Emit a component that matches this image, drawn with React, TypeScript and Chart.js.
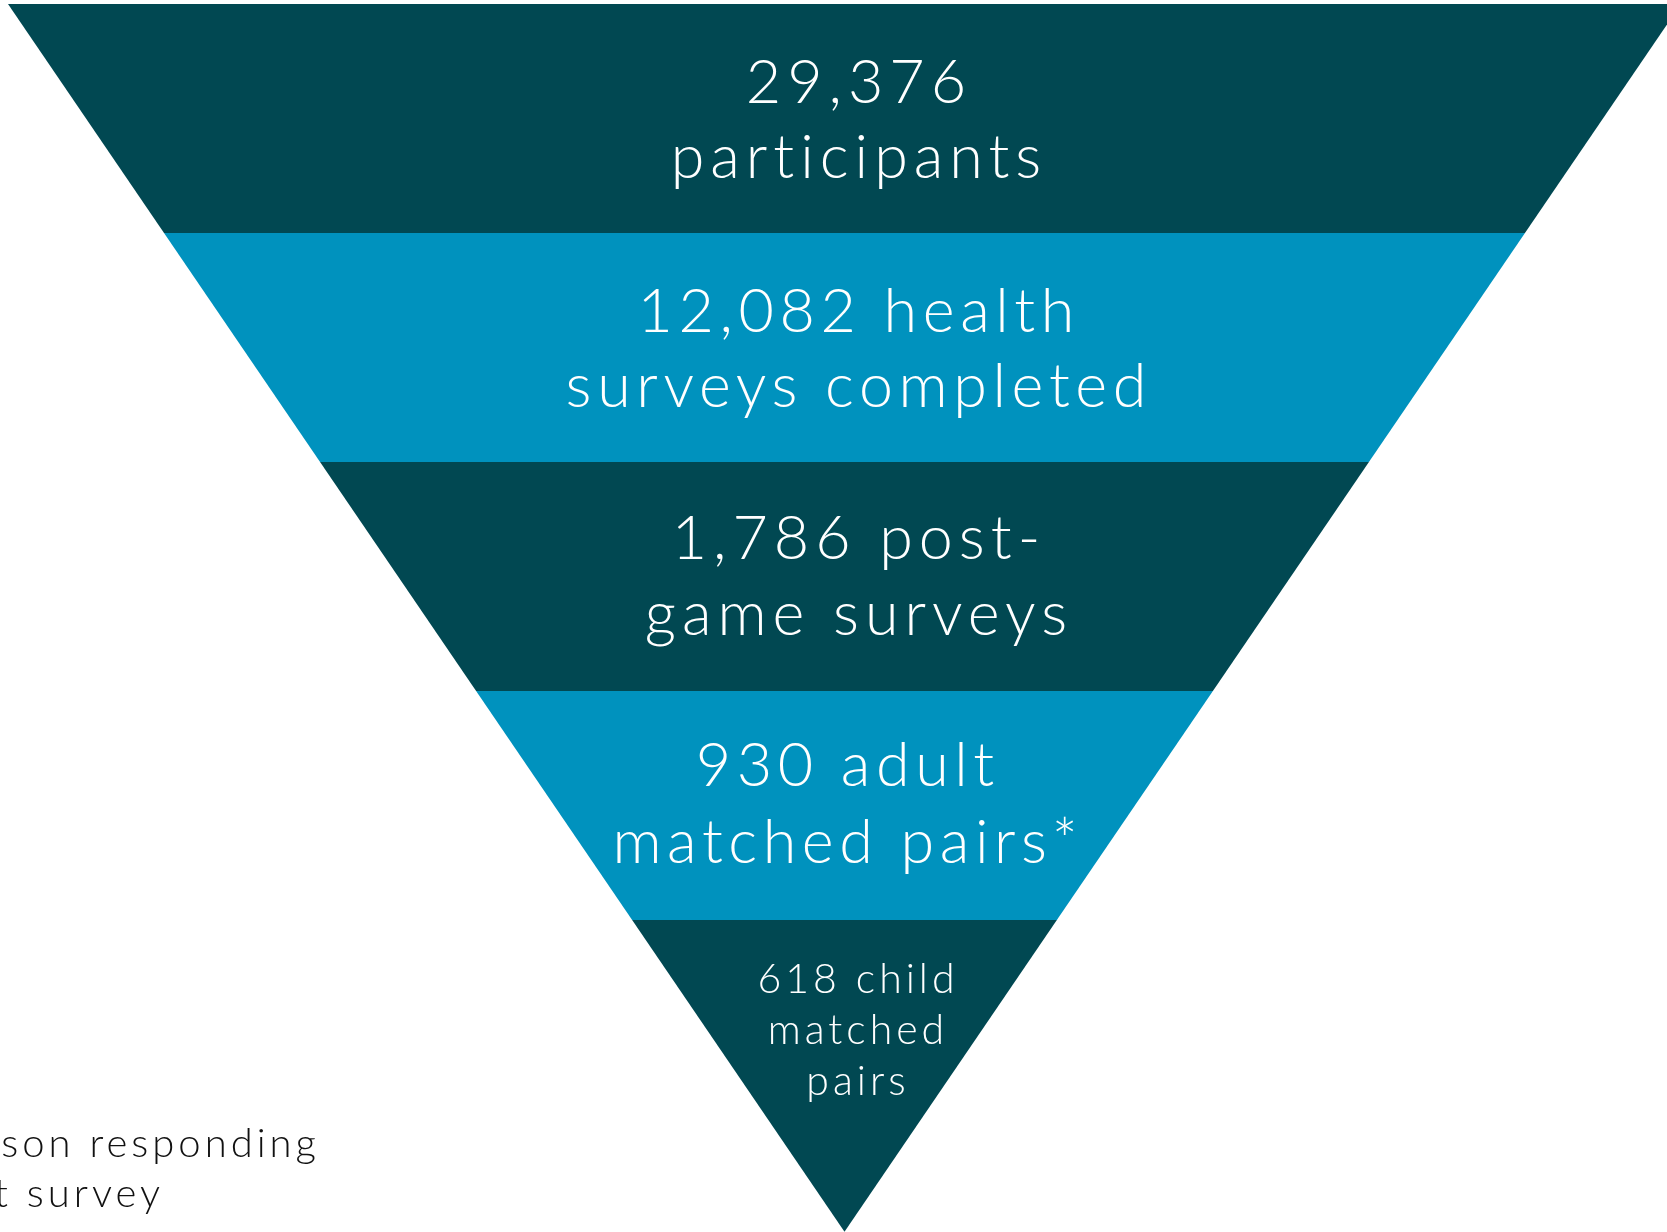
import React, { useEffect, useRef } from "react";
import { Chart, registerables } from "chart.js";

Chart.register(...registerables);

// ---- data ----
const stageLabels: string[][] = [
  ["29,376", "participants"],
  ["12,082 health", "surveys completed"],
  ["1,786 post-", "game surveys"],
  ["930 adult", "matched pairs*"],
  ["618 child", "matched", "pairs"],
];
const stageCounts = [29376, 12082, 1786, 930, 618];
const stageTops = [0, 1, 2, 3, 4]; // funnel level (band units) where each stage starts
const funnelApex = 5.361; // level where the funnel closes
const footnoteLines = ["son responding", "t survey"];

// ---- styles ----
const stageColors = ["#014852", "#0092BE", "#014852", "#0092BE", "#014852"];
const FONT = "Lato, 'Open Sans', sans-serif";
// per-stage text layout: font px, line height px, first baseline offset from band top px, x nudge (data units), letter spacing
const textLayout = [
  { size: 61, lh: 75, first: 99, nudge: 0.0137, ls: 6 },
  { size: 61, lh: 75, first: 99, nudge: 0.0137, ls: 5.6 },
  { size: 61, lh: 76, first: 97, nudge: 0.0137, ls: 6 },
  { size: 61, lh: 77, first: 95, nudge: 0.0006, ls: 5.6 },
  { size: 41, lh: 51, first: 73, nudge: 0.0137, ls: 4 },
];

const halfWidth = (level: number) => (funnelApex - level) / funnelApex;

const labelsPlugin = {
  id: "funnelLabels",
  afterDatasetsDraw(chart: any) {
    const { ctx, scales } = chart;
    const xs = scales.x;
    const ys = scales.y;
    ctx.save();
    stageLabels.forEach((lines, i) => {
      const lay = textLayout[i];
      const topPx = ys.getPixelForValue(stageTops[i]);
      const cx = xs.getPixelForValue(lay.nudge) + lay.ls / 2;
      ctx.fillStyle = "#ffffff";
      ctx.font = `300 ${lay.size}px ${FONT}`;
      ctx.textAlign = "center";
      ctx.textBaseline = "alphabetic";
      (ctx as any).letterSpacing = `${lay.ls}px`;
      lines.forEach((t, k) => {
        ctx.fillText(t, cx, topPx + lay.first + k * lay.lh);
      });
    });
    // footnote (clipped at the left edge, as in the source)
    ctx.fillStyle = "#111111";
    ctx.font = `300 40px ${FONT}`;
    ctx.textAlign = "right";
    (ctx as any).letterSpacing = "4px";
    ctx.fillText(footnoteLines[0], 320, 1157);
    ctx.fillText(footnoteLines[1], 164, 1207);
    ctx.restore();
  },
};

export default function App() {
  const ref = useRef<HTMLCanvasElement | null>(null);
  useEffect(() => {
    document.body.style.margin = "0";
    const canvas = ref.current;
    if (!canvas) return;
    const datasets = stageTops.map((top, i) => {
      const bottom = i < stageTops.length - 1 ? stageTops[i + 1] : funnelApex;
      const ht = halfWidth(top);
      const hb = halfWidth(bottom);
      return {
        label: `${stageCounts[i]}`,
        data: [
          { x: -ht, y: top },
          { x: ht, y: top },
          { x: hb, y: bottom },
          { x: -hb, y: bottom },
          { x: -ht, y: top },
        ],
        showLine: true,
        fill: "shape",
        backgroundColor: stageColors[i],
        borderColor: stageColors[i],
        borderWidth: 0,
        pointRadius: 0,
        pointHoverRadius: 0,
        tension: 0,
      };
    });
    const chart = new Chart(canvas, {
      type: "scatter",
      data: { datasets: datasets as any },
      options: {
        animation: false,
        responsive: false,
        maintainAspectRatio: false,
        layout: { padding: 0 },
        plugins: { legend: { display: false }, tooltip: { enabled: false } },
        events: [],
        scales: {
          x: { type: "linear", min: -1.00956, max: 0.98326, display: false },
          y: { type: "linear", min: -0.01747, max: 5.3624, reverse: true, display: false },
        },
      },
      plugins: [labelsPlugin],
    });
    return () => chart.destroy();
  }, []);
  return (
    <div style={{ width: 1667, height: 1232, background: "#ffffff" }}>
      <canvas ref={ref} width={1667} height={1232} style={{ display: "block" }} />
    </div>
  );
}
